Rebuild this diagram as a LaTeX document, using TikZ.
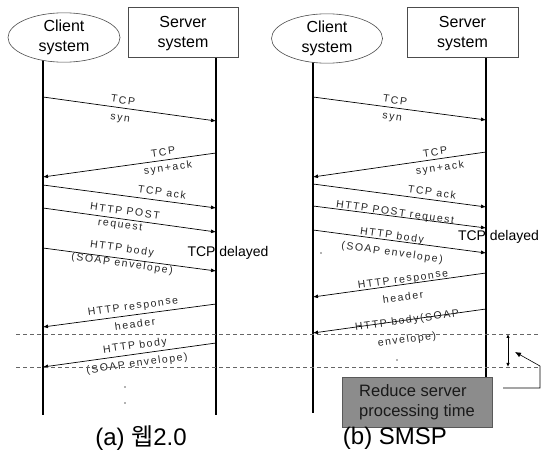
\documentclass[tikz,border=0pt]{standalone}
\usepackage{fontspec}
\setmainfont{Liberation Sans}
\newfontfamily\lblfont[LetterSpace=15]{Liberation Sans}
\newfontfamily\krfont{Noto Sans CJK KR}
\usetikzlibrary{shapes.geometric,arrows.meta}

\tikzset{
  life/.style={line width=1.5pt},
  msg/.style={line width=0.7pt,-{Latex[length=5pt,width=4pt]}},
  lbltxt/.style={inner sep=0.5pt,text=black!85,font=\lblfont\fontsize{10.5}{12}\selectfont},
  fwd/.style={lbltxt,rotate=-7.9},
  back/.style={lbltxt,rotate=7.9},
  hdr/.style={draw=black!70,line width=0.6pt,fill=white,align=center,inner sep=0pt,font=\fontsize{16}{20}\selectfont},
  cut/.style={draw=black!60,line width=0.6pt,dash pattern={on 4pt off 3pt}},
  delay/.style={inner sep=0pt,font=\fontsize{14}{16}\selectfont},
  capt/.style={inner sep=0pt,font=\fontsize{24}{28}\selectfont},
}

\begin{document}
\begin{tikzpicture}[x=1pt,y=1pt,yscale=-1]
\useasboundingbox (0,0) rectangle (541,454);

\draw[life] (43,50) -- (43,415);
\draw[life] (216,50) -- (216,415);
\draw[life] (313,50) -- (313,413);
\draw[life] (486,50) -- (486,377);

\node[hdr,ellipse,minimum width=112pt,minimum height=45pt] (aclient) at (64,37.5) {Client\\system};
\node[hdr,rectangle,minimum width=110pt,minimum height=50pt,text depth=0pt] (aserver) at (183,32) {Server\\system};
\node[hdr,ellipse,minimum width=111pt,minimum height=49pt] (bclient) at (327,38.5) {Client\\system};
\node[hdr,rectangle,minimum width=111pt,minimum height=50pt,text depth=0pt] (bserver) at (462.5,32) {Server\\system};

\foreach \n/\yc/\ys in {1/97/121,2/177/153,3/185/208,4/208/232,5/248/271,6/327/304,7/367/343} {
  \coordinate (ac\n) at (43,\yc);
  \coordinate (as\n) at (216,\ys);
}
\foreach \n/\yc/\ys in {1/97/120,2/177/152,3/184/207,4/206/228,5/230/253,6/297/273,7/333/309} {
  \coordinate (bc\n) at (313,\yc);
  \coordinate (bs\n) at (486,\ys);
}
\foreach \n in {1,3,4,5} {
  \draw[msg] (ac\n) -- (as\n);
  \draw[msg] (bc\n) -- (bs\n);
}
\foreach \n in {2,6,7} {
  \draw[msg] (as\n) -- (ac\n);
  \draw[msg] (bs\n) -- (bc\n);
}

\node[fwd] (la1t) at (123,100) {TCP};
\node[fwd] (la1b) at (120,119) {syn};
\node[back] (la2t) at (163,152) {TCP};
\node[back] (la2b) at (168,168) {syn+ack};
\node[fwd] (la3t) at (162,192) {TCP ack};
\node[fwd] (la4t) at (125,211) {HTTP POST};
\node[fwd] (la4b) at (120,226) {request};
\node[fwd] (la5t) at (122,249) {HTTP body};
\node[fwd] (la5b) at (122,264) {(SOAP envelope)};
\node[back] (la6t) at (133,307) {HTTP response};
\node[back] (la6b) at (135,324) {header};
\node[back] (la7t) at (135,346) {HTTP body};
\node[back] (la7b) at (137,364) {(SOAP envelope)};
\node[delay] (ladelay) at (228,253) {TCP delayed};

\node[fwd] (lb1t) at (395,100) {TCP};
\node[fwd] (lb1b) at (392,118) {syn};
\node[back] (lb2t) at (435,152) {TCP};
\node[back] (lb2b) at (440,168) {syn+ack};
\node[fwd] (lb3t) at (432,192) {TCP ack};
\node[fwd] (lb4t) at (395,213) {HTTP POST request};
\node[fwd] (lb5t) at (392,236) {HTTP body};
\node[fwd] (lb5b) at (392,253) {(SOAP envelope)};
\node[back] (lb6t) at (403,280) {HTTP response};
\node[back] (lb6b) at (403,297) {header};
\node[back] (lb7t) at (407,321) {HTTP body(SOAP};
\node[back] (lb7b) at (407,340) {envelope)};
\node[delay] (lbdelay) at (498.5,237) {TCP delayed};

\coordinate (cut1l) at (16,334);
\coordinate (cut1r) at (541,334);
\coordinate (cut2l) at (16,367);
\coordinate (cut2r) at (541,367);
\draw[cut] (cut1l) -- (cut1r);
\draw[cut] (cut2l) -- (cut2r);

\fill[black!60] (125,387) circle (0.8pt) (125,403) circle (0.8pt)
  (397,360) circle (0.8pt) (321,253) circle (0.8pt);

\node[draw=black!65,line width=0.8pt,fill=black!45,minimum width=150pt,minimum height=50pt,
  align=left,inner sep=0pt,text=black!90,font=\fontsize{16.5}{20}\selectfont] (reduce) at (417,402)
  {Reduce server\\processing time};

\coordinate (gaptop) at (508,334);
\coordinate (gapbot) at (508,367);
\draw[line width=0.8pt,{Latex[length=4pt,width=3.5pt]}-{Latex[length=4pt,width=3.5pt]}] (gaptop) -- (gapbot);
\coordinate (callout) at (503,388);
\coordinate (calltip) at (515,352);
\draw[line width=0.6pt,-{Latex[length=6pt,width=5pt]}] (callout) -- (540,388) -- (540,366) -- (calltip);

\node[capt] (capa) at (141,438) {(a) {\krfont 웹}2.0};
\node[capt] (capb) at (395,438) {(b) SMSP};
\end{tikzpicture}
\end{document}
